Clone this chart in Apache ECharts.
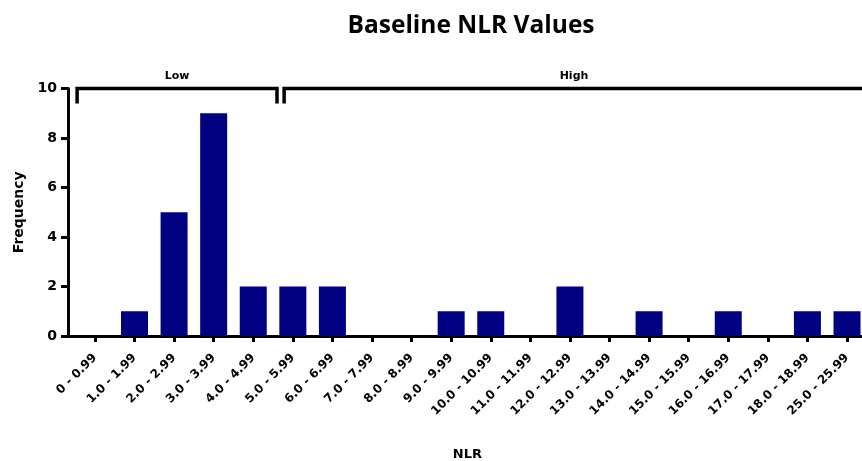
<!DOCTYPE html>
<html>
<head>
<meta charset="utf-8">
<script src="https://cdn.jsdelivr.net/npm/echarts@6/dist/echarts.min.js"></script>
<style>
  html, body { margin: 0; padding: 0; background: #fff; }
  #chart { width: 862px; height: 461px; }
</style>
</head>
<body>
<div id="chart"></div>
<script>
// NLR bins and how many patients fall in each
const categories = [
  '0 - 0.99', '1.0 - 1.99', '2.0 - 2.99', '3.0 - 3.99', '4.0 - 4.99',
  '5.0 - 5.99', '6.0 - 6.99', '7.0 - 7.99', '8.0 - 8.99', '9.0 - 9.99',
  '10.0 - 10.99', '11.0 - 11.99', '12.0 - 12.99', '13.0 - 13.99', '14.0 - 14.99',
  '15.0 - 15.99', '16.0 - 16.99', '17.0 - 17.99', '18.0 - 18.99', '25.0 - 25.99'
];
const frequency = [0, 1, 5, 9, 2, 2, 2, 0, 0, 1, 1, 0, 2, 0, 1, 0, 1, 0, 1, 1];

// Group brackets drawn above the bars: first and last bin of each group
const groupNames = ['Low', 'High'];
const groupFirst = [0, 5];
const groupLast = [4, 19];

const AXIS_FONT = 'DejaVu Sans';
const binIndex = categories.map((_, i) => i);
const chart = echarts.init(document.getElementById('chart'), null, { renderer: 'canvas' });

const option = {
  animation: false,
  backgroundColor: '#ffffff',
  title: {
    text: 'Baseline NLR Values',
    left: 466,
    top: 9,
    textAlign: 'center',
    textStyle: { fontFamily: 'Open Sans', fontWeight: 'bold', fontSize: 24.5, color: '#000' }
  },
  grid: { left: 68, right: -4.8, top: 88.5, bottom: 125, outerBoundsMode: 'none', containLabel: false },
  // Bins sit on integer positions; the axis starts a little before the first
  // bin so there is a small gap between the y axis and the first band.
  xAxis: {
    type: 'value',
    min: -0.68,
    max: 19.5,
    name: 'NLR',
    nameLocation: 'middle',
    nameGap: 112,
    nameTextStyle: { fontFamily: AXIS_FONT, fontWeight: 'bold', fontSize: 13, color: '#000' },
    axisLine: { show: true, onZero: false, lineStyle: { color: '#000', width: 3 } },
    axisTick: { show: true, customValues: binIndex, length: 6, lineStyle: { color: '#000', width: 3 } },
    axisLabel: {
      customValues: binIndex,
      formatter: (v) => categories[Math.round(v)],
      rotate: 45,
      margin: 20,
      fontFamily: AXIS_FONT,
      fontWeight: 'bold',
      fontSize: 12,
      color: '#000'
    },
    splitLine: { show: false }
  },
  yAxis: {
    type: 'value',
    min: 0,
    max: 10,
    interval: 2,
    name: 'Frequency',
    nameLocation: 'middle',
    nameGap: 38,
    nameRotate: 90,
    nameTextStyle: { fontFamily: AXIS_FONT, fontWeight: 'bold', fontSize: 14, color: '#000' },
    axisLine: { show: true, onZero: false, lineStyle: { color: '#000', width: 3 } },
    axisTick: { show: true, inside: false, length: 7, lineStyle: { color: '#000', width: 3 } },
    axisLabel: { margin: 11, fontFamily: AXIS_FONT, fontWeight: 'bold', fontSize: 14, color: '#000' },
    splitLine: { show: false }
  },
  series: [{
    type: 'bar',
    data: frequency.map((v, i) => [binIndex[i], v]),
    barWidth: 27,
    itemStyle: { color: '#000080' }
  }]
};
chart.setOption(option);

// Low / High group brackets placed from the bin positions on the x axis
const yTop = chart.convertToPixel({ yAxisIndex: 0 }, 10);
const step = chart.convertToPixel({ xAxisIndex: 0 }, 1) - chart.convertToPixel({ xAxisIndex: 0 }, 0);
const graphics = [];
groupNames.forEach((name, i) => {
  const cFirst = chart.convertToPixel({ xAxisIndex: 0 }, groupFirst[i]);
  const cLast = chart.convertToPixel({ xAxisIndex: 0 }, groupLast[i]);
  const x1 = i === 0 ? cFirst - step * 0.45 : cFirst - step * 0.22;
  const x2 = cLast + step * 0.6;
  graphics.push({
    type: 'polyline',
    shape: { points: [[x1, yTop + 15], [x1, yTop], [x2, yTop], [x2, yTop + 15]] },
    style: { stroke: '#000', lineWidth: 3.5, fill: null, lineJoin: 'miter' }
  });
  const mid = i === 0 ? (x1 + x2) / 2 : 574;
  graphics.push({
    type: 'text',
    x: mid,
    y: yTop - 7,
    style: {
      text: name,
      x: 0, y: 0,
      align: 'center',
      verticalAlign: 'bottom',
      font: 'bold 11px "DejaVu Sans"',
      fill: '#000'
    }
  });
});
chart.setOption({ graphic: graphics });
</script>
</body>
</html>
